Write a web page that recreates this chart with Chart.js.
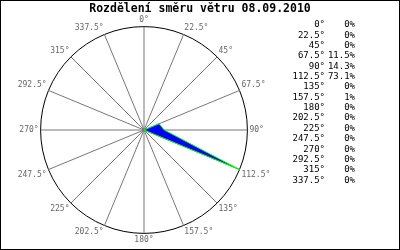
<!DOCTYPE html>
<html><head><meta charset="utf-8">
<script src="https://cdn.jsdelivr.net/npm/chart.js@4"></script>
<style>
html,body{margin:0;padding:0;background:#fff;}
#wrap{position:relative;width:400px;height:250px;}
#frame{position:absolute;left:0;top:0;width:400px;height:250px;box-sizing:border-box;border:1px solid #000;pointer-events:none;}
canvas{position:absolute;left:0;top:0;}
</style></head><body>
<div id="wrap"><canvas id="c" width="400" height="250"></canvas><div id="frame"></div></div>
<script>
const directions = ['0°','22.5°','45°','67.5°','90°','112.5°','135°','157.5°','180°','202.5°','225°','247.5°','270°','292.5°','315°','337.5°'];
const percentages = [0,0,0,11.5,14.3,73.1,0,1,0,0,0,0,0,0,0,0];
const titleText = 'Rozdělení směru větru 08.09.2010';
const scaleMax = Math.max(...percentages);

const textPlugin = {
  id: 'dirTable',
  afterDraw(chart) {
    const ctx = chart.ctx;
    ctx.save();
    ctx.font = 'bold 11.5px "DejaVu Sans Mono"';
    ctx.fillStyle = '#000';
    ctx.textBaseline = 'middle';
    ctx.textAlign = 'center';
    ctx.fillText(titleText, 200, 9);
    ctx.font = '9px "DejaVu Sans Mono"';
    ctx.textAlign = 'right';
    directions.forEach((d, i) => {
      const y = 25 + i * 10.35;
      ctx.fillText(d, 325, y);
      ctx.fillText(percentages[i] + '%', 355, y);
    });
    ctx.restore();
  }
};

new Chart(document.getElementById('c'), {
  type: 'radar',
  data: {
    labels: directions,
    datasets: [{
      data: percentages,
      fill: true,
      backgroundColor: '#0000ff',
      borderColor: '#00ff00',
      borderWidth: 1,
      pointRadius: 0,
      tension: 0
    }]
  },
  options: {
    responsive: false,
    animation: false,
    devicePixelRatio: 1,
    layout: { padding: { left: 5, right: 117, top: 16, bottom: 4 } },
    plugins: {
      legend: { display: false },
      tooltip: { enabled: false },
      title: { display: false }
    },
    scales: {
      r: {
        min: 0,
        max: scaleMax,
        afterBuildTicks(scale) { scale.ticks = [{ value: 0 }, { value: scaleMax }]; },
        ticks: { display: false },
        grid: { circular: true, color: '#000', lineWidth: 1 },
        angleLines: { color: '#777', lineWidth: 1 },
        pointLabels: {
          color: '#666',
          padding: 2,
          font: { family: 'DejaVu Sans Mono', size: 8 }
        }
      }
    }
  },
  plugins: [textPlugin]
});
</script>
</body></html>
